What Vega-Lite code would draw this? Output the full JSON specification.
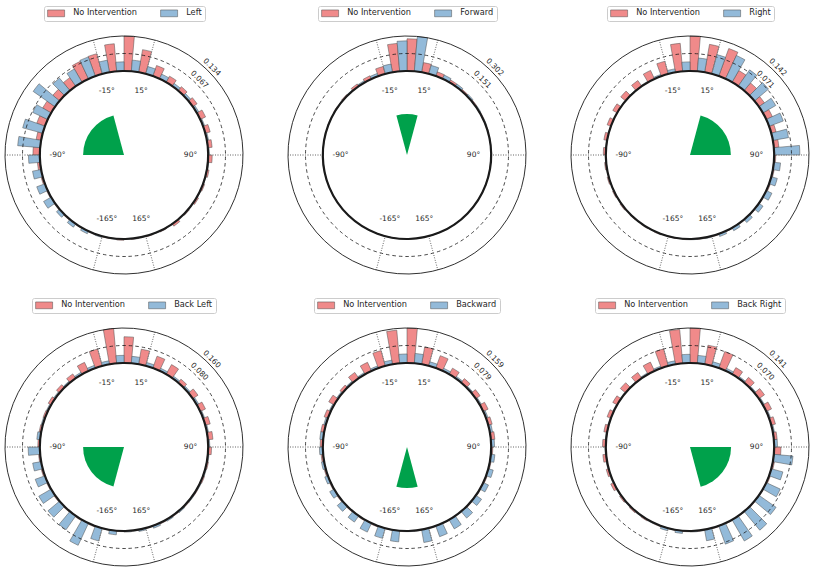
{
  "$schema": "https://vega.github.io/schema/vega-lite/v6.json",
  "background": "white",
  "padding": {"left": 0, "top": 5, "right": 0, "bottom": 0},
  "columns": 3,
  "spacing": {"row": 18, "column": 35},
  "resolve": {
    "scale": {"color": "independent", "theta": "independent", "radius": "independent"},
    "legend": {"color": "independent"}
  },
  "concat": [
    {
      "width": 248, "height": 248,
      "layer": [
        {
          "data": {"values": [
            {"s":"No Intervention","a":-180,"b":-175,"v":0.005},{"s":"No Intervention","a":-170,"b":-165,"v":0.003},{"s":"No Intervention","a":-160,"b":-155,"v":0.003},{"s":"No Intervention","a":-150,"b":-145,"v":0.003},{"s":"No Intervention","a":-140,"b":-135,"v":0.004},{"s":"No Intervention","a":-130,"b":-125,"v":0.004},{"s":"No Intervention","a":-120,"b":-115,"v":0.005},{"s":"No Intervention","a":-110,"b":-105,"v":0.007},{"s":"No Intervention","a":-100,"b":-95,"v":0.011},{"s":"No Intervention","a":-90,"b":-85,"v":0.027},{"s":"No Intervention","a":-80,"b":-75,"v":0.02},{"s":"No Intervention","a":-70,"b":-65,"v":0.034},{"s":"No Intervention","a":-60,"b":-55,"v":0.038},{"s":"No Intervention","a":-50,"b":-45,"v":0.034},{"s":"No Intervention","a":-40,"b":-35,"v":0.04},{"s":"No Intervention","a":-30,"b":-25,"v":0.074},{"s":"No Intervention","a":-20,"b":-15,"v":0.08},{"s":"No Intervention","a":-10,"b":-5,"v":0.106},{"s":"No Intervention","a":0,"b":5,"v":0.134},{"s":"No Intervention","a":10,"b":15,"v":0.088},{"s":"No Intervention","a":20,"b":25,"v":0.043},{"s":"No Intervention","a":30,"b":35,"v":0.027},{"s":"No Intervention","a":40,"b":45,"v":0.02},{"s":"No Intervention","a":50,"b":55,"v":0.02},{"s":"No Intervention","a":60,"b":65,"v":0.023},{"s":"No Intervention","a":70,"b":75,"v":0.02},{"s":"No Intervention","a":80,"b":85,"v":0.017},{"s":"No Intervention","a":90,"b":95,"v":0.016},{"s":"No Intervention","a":100,"b":105,"v":0.009},{"s":"No Intervention","a":110,"b":115,"v":0.007},{"s":"No Intervention","a":120,"b":125,"v":0.008},{"s":"No Intervention","a":130,"b":135,"v":0.005},{"s":"No Intervention","a":140,"b":145,"v":0.011},{"s":"No Intervention","a":150,"b":155,"v":0.004},{"s":"No Intervention","a":160,"b":165,"v":0.003},{"s":"No Intervention","a":170,"b":175,"v":0.003},
            {"s":"Left","a":-175,"b":-170,"v":0.003},{"s":"Left","a":-165,"b":-160,"v":0.005},{"s":"Left","a":-155,"b":-150,"v":0.011},{"s":"Left","a":-145,"b":-140,"v":0.016},{"s":"Left","a":-135,"b":-130,"v":0.016},{"s":"Left","a":-125,"b":-120,"v":0.034},{"s":"Left","a":-115,"b":-110,"v":0.034},{"s":"Left","a":-105,"b":-100,"v":0.034},{"s":"Left","a":-95,"b":-90,"v":0.044},{"s":"Left","a":-85,"b":-80,"v":0.087},{"s":"Left","a":-75,"b":-70,"v":0.08},{"s":"Left","a":-65,"b":-60,"v":0.064},{"s":"Left","a":-55,"b":-50,"v":0.103},{"s":"Left","a":-45,"b":-40,"v":0.063},{"s":"Left","a":-35,"b":-30,"v":0.059},{"s":"Left","a":-25,"b":-20,"v":0.078},{"s":"Left","a":-15,"b":-10,"v":0.047},{"s":"Left","a":-5,"b":0,"v":0.035},{"s":"Left","a":5,"b":10,"v":0.043},{"s":"Left","a":15,"b":20,"v":0.029},{"s":"Left","a":25,"b":30,"v":0.02},{"s":"Left","a":35,"b":40,"v":0.013},{"s":"Left","a":45,"b":50,"v":0.011},{"s":"Left","a":55,"b":60,"v":0.009},{"s":"Left","a":65,"b":70,"v":0.007},{"s":"Left","a":75,"b":80,"v":0.007},{"s":"Left","a":85,"b":90,"v":0.005},{"s":"Left","a":95,"b":100,"v":0.004},{"s":"Left","a":105,"b":110,"v":0.003},{"s":"Left","a":115,"b":120,"v":0.003},{"s":"Left","a":125,"b":130,"v":0.001},{"s":"Left","a":135,"b":140,"v":0.001},{"s":"Left","a":145,"b":150,"v":0.001},{"s":"Left","a":155,"b":160,"v":0.001},{"s":"Left","a":165,"b":170,"v":0.001},{"s":"Left","a":175,"b":180,"v":0.001}
          ]},
          "mark": {"type": "arc", "stroke": "#4d4d4d", "strokeWidth": 0.5},
          "encoding": {
            "theta": {"field": "a", "type": "quantitative", "stack": null, "scale": {"type": "linear", "domain": [-180, 180], "range": [-3.141592653589793, 3.141592653589793]}},
            "theta2": {"field": "b"},
            "radius": {"field": "v", "type": "quantitative", "scale": {"type": "linear", "domain": [-0.3216, 0.134], "range": [0, 119], "zero": false, "nice": false}},
            "radius2": {"datum": 0},
            "color": {"field": "s", "type": "nominal", "scale": {"domain": ["No Intervention", "Left"], "range": ["#f08a8a", "#93bad9"]}, "legend": {"title": null}}
          }
        },
        {
          "data": {"values": [{"r": 0.067}]},
          "mark": {"type": "arc", "filled": false, "stroke": "#1a1a1a", "strokeWidth": 0.8, "strokeDash": [3.5, 3]},
          "encoding": {"theta": {"datum": -181}, "theta2": {"datum": 181}, "radius": {"field": "r", "type": "quantitative"}, "radius2": {"datum": -0.3216}}
        },
        {
          "data": {"values": [{"t": -165}, {"t": -90}, {"t": -15}, {"t": 15}, {"t": 90}, {"t": 165}]},
          "mark": {"type": "arc", "filled": false, "stroke": "#808080", "strokeWidth": 0.9, "strokeDash": [0.8, 1.7], "strokeDashOffset": 0.4},
          "encoding": {"theta": {"field": "t", "type": "quantitative", "stack": null}, "theta2": {"field": "t"}, "radius": {"datum": 0.134}, "radius2": {"datum": 0}}
        },
        {
          "data": {"values": [{"r": 0.134}]},
          "mark": {"type": "arc", "filled": false, "stroke": "#1a1a1a", "strokeWidth": 0.9},
          "encoding": {"theta": {"datum": -181}, "theta2": {"datum": 181}, "radius": {"field": "r", "type": "quantitative"}, "radius2": {"datum": -0.3216}}
        },
        {
          "data": {"values": [{"r": 0}]},
          "mark": {"type": "arc", "filled": false, "stroke": "#1a1a1a", "strokeWidth": 2.2},
          "encoding": {"theta": {"datum": -181}, "theta2": {"datum": 181}, "radius": {"field": "r", "type": "quantitative"}, "radius2": {"datum": -0.3216}}
        },
        {
          "data": {"values": [{"a": -90, "b": -15, "r": -0.165}]},
          "mark": {"type": "arc", "fill": "#00a14b"},
          "encoding": {"theta": {"field": "a", "type": "quantitative", "stack": null}, "theta2": {"field": "b"}, "radius": {"field": "r", "type": "quantitative"}, "radius2": {"datum": -0.3216}}
        },
        {
          "data": {"values": [{"t": -165, "l": "-165°"}, {"t": -90, "l": "-90°"}, {"t": -15, "l": "-15°"}, {"t": 15, "l": "15°"}, {"t": 90, "l": "90°"}, {"t": 165, "l": "165°"}]},
          "mark": {"type": "text"},
          "encoding": {"theta": {"field": "t", "type": "quantitative"}, "radius": {"datum": -0.067}, "text": {"field": "l"}}
        },
        {
          "data": {"values": [{"r": 0.134, "l": "0.134"}, {"r": 0.067, "l": "0.067"}]},
          "mark": {"type": "text", "angle": 45, "radiusOffset": 5},
          "encoding": {"theta": {"datum": 45}, "radius": {"field": "r", "type": "quantitative"}, "text": {"field": "l"}}
        }
      ]
    },
    {
      "width": 248, "height": 248,
      "layer": [
        {
          "data": {"values": [
            {"s":"No Intervention","a":-180,"b":-175,"v":0},{"s":"No Intervention","a":-170,"b":-165,"v":0},{"s":"No Intervention","a":-160,"b":-155,"v":0},{"s":"No Intervention","a":-150,"b":-145,"v":0},{"s":"No Intervention","a":-140,"b":-135,"v":0},{"s":"No Intervention","a":-130,"b":-125,"v":0},{"s":"No Intervention","a":-120,"b":-115,"v":0.002},{"s":"No Intervention","a":-110,"b":-105,"v":0.002},{"s":"No Intervention","a":-100,"b":-95,"v":0.003},{"s":"No Intervention","a":-90,"b":-85,"v":0.003},{"s":"No Intervention","a":-80,"b":-75,"v":0.003},{"s":"No Intervention","a":-70,"b":-65,"v":0.006},{"s":"No Intervention","a":-60,"b":-55,"v":0.009},{"s":"No Intervention","a":-50,"b":-45,"v":0.012},{"s":"No Intervention","a":-40,"b":-35,"v":0.024},{"s":"No Intervention","a":-30,"b":-25,"v":0.03},{"s":"No Intervention","a":-20,"b":-15,"v":0.066},{"s":"No Intervention","a":-10,"b":-5,"v":0.242},{"s":"No Intervention","a":0,"b":5,"v":0.278},{"s":"No Intervention","a":10,"b":15,"v":0.085},{"s":"No Intervention","a":20,"b":25,"v":0.039},{"s":"No Intervention","a":30,"b":35,"v":0.024},{"s":"No Intervention","a":40,"b":45,"v":0.015},{"s":"No Intervention","a":50,"b":55,"v":0.012},{"s":"No Intervention","a":60,"b":65,"v":0.009},{"s":"No Intervention","a":70,"b":75,"v":0.006},{"s":"No Intervention","a":80,"b":85,"v":0.003},{"s":"No Intervention","a":90,"b":95,"v":0.003},{"s":"No Intervention","a":100,"b":105,"v":0.002},{"s":"No Intervention","a":110,"b":115,"v":0},{"s":"No Intervention","a":120,"b":125,"v":0},{"s":"No Intervention","a":130,"b":135,"v":0},{"s":"No Intervention","a":140,"b":145,"v":0},{"s":"No Intervention","a":150,"b":155,"v":0},{"s":"No Intervention","a":160,"b":165,"v":0},{"s":"No Intervention","a":170,"b":175,"v":0},
            {"s":"Forward","a":-175,"b":-170,"v":0},{"s":"Forward","a":-165,"b":-160,"v":0},{"s":"Forward","a":-155,"b":-150,"v":0},{"s":"Forward","a":-145,"b":-140,"v":0},{"s":"Forward","a":-135,"b":-130,"v":0},{"s":"Forward","a":-125,"b":-120,"v":0},{"s":"Forward","a":-115,"b":-110,"v":0.001},{"s":"Forward","a":-105,"b":-100,"v":0.001},{"s":"Forward","a":-95,"b":-90,"v":0.001},{"s":"Forward","a":-85,"b":-80,"v":0.001},{"s":"Forward","a":-75,"b":-70,"v":0.002},{"s":"Forward","a":-65,"b":-60,"v":0.003},{"s":"Forward","a":-55,"b":-50,"v":0.006},{"s":"Forward","a":-45,"b":-40,"v":0.009},{"s":"Forward","a":-35,"b":-30,"v":0.015},{"s":"Forward","a":-25,"b":-20,"v":0.024},{"s":"Forward","a":-15,"b":-10,"v":0.072},{"s":"Forward","a":-5,"b":0,"v":0.26},{"s":"Forward","a":5,"b":10,"v":0.302},{"s":"Forward","a":15,"b":20,"v":0.076},{"s":"Forward","a":25,"b":30,"v":0.036},{"s":"Forward","a":35,"b":40,"v":0.024},{"s":"Forward","a":45,"b":50,"v":0.018},{"s":"Forward","a":55,"b":60,"v":0.012},{"s":"Forward","a":65,"b":70,"v":0.009},{"s":"Forward","a":75,"b":80,"v":0.003},{"s":"Forward","a":85,"b":90,"v":0.002},{"s":"Forward","a":95,"b":100,"v":0.001},{"s":"Forward","a":105,"b":110,"v":0.001},{"s":"Forward","a":115,"b":120,"v":0.001},{"s":"Forward","a":125,"b":130,"v":0},{"s":"Forward","a":135,"b":140,"v":0},{"s":"Forward","a":145,"b":150,"v":0},{"s":"Forward","a":155,"b":160,"v":0},{"s":"Forward","a":165,"b":170,"v":0},{"s":"Forward","a":175,"b":180,"v":0}
          ]},
          "mark": {"type": "arc", "stroke": "#4d4d4d", "strokeWidth": 0.5},
          "encoding": {
            "theta": {"field": "a", "type": "quantitative", "stack": null, "scale": {"type": "linear", "domain": [-180, 180], "range": [-3.141592653589793, 3.141592653589793]}},
            "theta2": {"field": "b"},
            "radius": {"field": "v", "type": "quantitative", "scale": {"type": "linear", "domain": [-0.7248, 0.302], "range": [0, 119], "zero": false, "nice": false}},
            "radius2": {"datum": 0},
            "color": {"field": "s", "type": "nominal", "scale": {"domain": ["No Intervention", "Forward"], "range": ["#f08a8a", "#93bad9"]}, "legend": {"title": null}}
          }
        },
        {
          "data": {"values": [{"r": 0.151}]},
          "mark": {"type": "arc", "filled": false, "stroke": "#1a1a1a", "strokeWidth": 0.8, "strokeDash": [3.5, 3]},
          "encoding": {"theta": {"datum": -181}, "theta2": {"datum": 181}, "radius": {"field": "r", "type": "quantitative"}, "radius2": {"datum": -0.7248}}
        },
        {
          "data": {"values": [{"t": -165}, {"t": -90}, {"t": -15}, {"t": 15}, {"t": 90}, {"t": 165}]},
          "mark": {"type": "arc", "filled": false, "stroke": "#808080", "strokeWidth": 0.9, "strokeDash": [0.8, 1.7], "strokeDashOffset": 0.4},
          "encoding": {"theta": {"field": "t", "type": "quantitative", "stack": null}, "theta2": {"field": "t"}, "radius": {"datum": 0.302}, "radius2": {"datum": 0}}
        },
        {
          "data": {"values": [{"r": 0.302}]},
          "mark": {"type": "arc", "filled": false, "stroke": "#1a1a1a", "strokeWidth": 0.9},
          "encoding": {"theta": {"datum": -181}, "theta2": {"datum": 181}, "radius": {"field": "r", "type": "quantitative"}, "radius2": {"datum": -0.7248}}
        },
        {
          "data": {"values": [{"r": 0}]},
          "mark": {"type": "arc", "filled": false, "stroke": "#1a1a1a", "strokeWidth": 2.2},
          "encoding": {"theta": {"datum": -181}, "theta2": {"datum": 181}, "radius": {"field": "r", "type": "quantitative"}, "radius2": {"datum": -0.7248}}
        },
        {
          "data": {"values": [{"a": -15, "b": 15, "r": -0.371}]},
          "mark": {"type": "arc", "fill": "#00a14b"},
          "encoding": {"theta": {"field": "a", "type": "quantitative", "stack": null}, "theta2": {"field": "b"}, "radius": {"field": "r", "type": "quantitative"}, "radius2": {"datum": -0.7248}}
        },
        {
          "data": {"values": [{"t": -165, "l": "-165°"}, {"t": -90, "l": "-90°"}, {"t": -15, "l": "-15°"}, {"t": 15, "l": "15°"}, {"t": 90, "l": "90°"}, {"t": 165, "l": "165°"}]},
          "mark": {"type": "text"},
          "encoding": {"theta": {"field": "t", "type": "quantitative"}, "radius": {"datum": -0.151}, "text": {"field": "l"}}
        },
        {
          "data": {"values": [{"r": 0.302, "l": "0.302"}, {"r": 0.151, "l": "0.151"}]},
          "mark": {"type": "text", "angle": 45, "radiusOffset": 5},
          "encoding": {"theta": {"datum": 45}, "radius": {"field": "r", "type": "quantitative"}, "text": {"field": "l"}}
        }
      ]
    },
    {
      "width": 248, "height": 248,
      "layer": [
        {
          "data": {"values": [
            {"s":"No Intervention","a":-180,"b":-175,"v":0.003},{"s":"No Intervention","a":-170,"b":-165,"v":0.003},{"s":"No Intervention","a":-160,"b":-155,"v":0.004},{"s":"No Intervention","a":-150,"b":-145,"v":0.004},{"s":"No Intervention","a":-140,"b":-135,"v":0.004},{"s":"No Intervention","a":-130,"b":-125,"v":0.006},{"s":"No Intervention","a":-120,"b":-115,"v":0.006},{"s":"No Intervention","a":-110,"b":-105,"v":0.007},{"s":"No Intervention","a":-100,"b":-95,"v":0.007},{"s":"No Intervention","a":-90,"b":-85,"v":0.011},{"s":"No Intervention","a":-80,"b":-75,"v":0.014},{"s":"No Intervention","a":-70,"b":-65,"v":0.017},{"s":"No Intervention","a":-60,"b":-55,"v":0.021},{"s":"No Intervention","a":-50,"b":-45,"v":0.026},{"s":"No Intervention","a":-40,"b":-35,"v":0.028},{"s":"No Intervention","a":-30,"b":-25,"v":0.038},{"s":"No Intervention","a":-20,"b":-15,"v":0.053},{"s":"No Intervention","a":-10,"b":-5,"v":0.114},{"s":"No Intervention","a":0,"b":5,"v":0.142},{"s":"No Intervention","a":10,"b":15,"v":0.115},{"s":"No Intervention","a":20,"b":25,"v":0.119},{"s":"No Intervention","a":30,"b":35,"v":0.055},{"s":"No Intervention","a":40,"b":45,"v":0.041},{"s":"No Intervention","a":50,"b":55,"v":0.028},{"s":"No Intervention","a":60,"b":65,"v":0.028},{"s":"No Intervention","a":70,"b":75,"v":0.021},{"s":"No Intervention","a":80,"b":85,"v":0.021},{"s":"No Intervention","a":90,"b":95,"v":0.007},{"s":"No Intervention","a":100,"b":105,"v":0.006},{"s":"No Intervention","a":110,"b":115,"v":0.006},{"s":"No Intervention","a":120,"b":125,"v":0.004},{"s":"No Intervention","a":130,"b":135,"v":0.004},{"s":"No Intervention","a":140,"b":145,"v":0.004},{"s":"No Intervention","a":150,"b":155,"v":0.003},{"s":"No Intervention","a":160,"b":165,"v":0.003},{"s":"No Intervention","a":170,"b":175,"v":0.003},
            {"s":"Right","a":-175,"b":-170,"v":0.001},{"s":"Right","a":-165,"b":-160,"v":0.001},{"s":"Right","a":-155,"b":-150,"v":0.001},{"s":"Right","a":-145,"b":-140,"v":0.001},{"s":"Right","a":-135,"b":-130,"v":0.001},{"s":"Right","a":-125,"b":-120,"v":0.001},{"s":"Right","a":-115,"b":-110,"v":0.001},{"s":"Right","a":-105,"b":-100,"v":0.001},{"s":"Right","a":-95,"b":-90,"v":0.001},{"s":"Right","a":-85,"b":-80,"v":0.002},{"s":"Right","a":-75,"b":-70,"v":0.002},{"s":"Right","a":-65,"b":-60,"v":0.002},{"s":"Right","a":-55,"b":-50,"v":0.002},{"s":"Right","a":-45,"b":-40,"v":0.003},{"s":"Right","a":-35,"b":-30,"v":0.004},{"s":"Right","a":-25,"b":-20,"v":0.007},{"s":"Right","a":-15,"b":-10,"v":0.014},{"s":"Right","a":-5,"b":0,"v":0.037},{"s":"Right","a":5,"b":10,"v":0.054},{"s":"Right","a":15,"b":20,"v":0.081},{"s":"Right","a":25,"b":30,"v":0.105},{"s":"Right","a":35,"b":40,"v":0.081},{"s":"Right","a":45,"b":50,"v":0.075},{"s":"Right","a":55,"b":60,"v":0.061},{"s":"Right","a":65,"b":70,"v":0.062},{"s":"Right","a":75,"b":80,"v":0.065},{"s":"Right","a":85,"b":90,"v":0.105},{"s":"Right","a":95,"b":100,"v":0.028},{"s":"Right","a":105,"b":110,"v":0.026},{"s":"Right","a":115,"b":120,"v":0.026},{"s":"Right","a":125,"b":130,"v":0.021},{"s":"Right","a":135,"b":140,"v":0.017},{"s":"Right","a":145,"b":150,"v":0.014},{"s":"Right","a":155,"b":160,"v":0.011},{"s":"Right","a":165,"b":170,"v":0.004},{"s":"Right","a":175,"b":180,"v":0.003}
          ]},
          "mark": {"type": "arc", "stroke": "#4d4d4d", "strokeWidth": 0.5},
          "encoding": {
            "theta": {"field": "a", "type": "quantitative", "stack": null, "scale": {"type": "linear", "domain": [-180, 180], "range": [-3.141592653589793, 3.141592653589793]}},
            "theta2": {"field": "b"},
            "radius": {"field": "v", "type": "quantitative", "scale": {"type": "linear", "domain": [-0.3408, 0.142], "range": [0, 119], "zero": false, "nice": false}},
            "radius2": {"datum": 0},
            "color": {"field": "s", "type": "nominal", "scale": {"domain": ["No Intervention", "Right"], "range": ["#f08a8a", "#93bad9"]}, "legend": {"title": null}}
          }
        },
        {
          "data": {"values": [{"r": 0.071}]},
          "mark": {"type": "arc", "filled": false, "stroke": "#1a1a1a", "strokeWidth": 0.8, "strokeDash": [3.5, 3]},
          "encoding": {"theta": {"datum": -181}, "theta2": {"datum": 181}, "radius": {"field": "r", "type": "quantitative"}, "radius2": {"datum": -0.3408}}
        },
        {
          "data": {"values": [{"t": -165}, {"t": -90}, {"t": -15}, {"t": 15}, {"t": 90}, {"t": 165}]},
          "mark": {"type": "arc", "filled": false, "stroke": "#808080", "strokeWidth": 0.9, "strokeDash": [0.8, 1.7], "strokeDashOffset": 0.4},
          "encoding": {"theta": {"field": "t", "type": "quantitative", "stack": null}, "theta2": {"field": "t"}, "radius": {"datum": 0.142}, "radius2": {"datum": 0}}
        },
        {
          "data": {"values": [{"r": 0.142}]},
          "mark": {"type": "arc", "filled": false, "stroke": "#1a1a1a", "strokeWidth": 0.9},
          "encoding": {"theta": {"datum": -181}, "theta2": {"datum": 181}, "radius": {"field": "r", "type": "quantitative"}, "radius2": {"datum": -0.3408}}
        },
        {
          "data": {"values": [{"r": 0}]},
          "mark": {"type": "arc", "filled": false, "stroke": "#1a1a1a", "strokeWidth": 2.2},
          "encoding": {"theta": {"datum": -181}, "theta2": {"datum": 181}, "radius": {"field": "r", "type": "quantitative"}, "radius2": {"datum": -0.3408}}
        },
        {
          "data": {"values": [{"a": 15, "b": 90, "r": -0.175}]},
          "mark": {"type": "arc", "fill": "#00a14b"},
          "encoding": {"theta": {"field": "a", "type": "quantitative", "stack": null}, "theta2": {"field": "b"}, "radius": {"field": "r", "type": "quantitative"}, "radius2": {"datum": -0.3408}}
        },
        {
          "data": {"values": [{"t": -165, "l": "-165°"}, {"t": -90, "l": "-90°"}, {"t": -15, "l": "-15°"}, {"t": 15, "l": "15°"}, {"t": 90, "l": "90°"}, {"t": 165, "l": "165°"}]},
          "mark": {"type": "text"},
          "encoding": {"theta": {"field": "t", "type": "quantitative"}, "radius": {"datum": -0.071}, "text": {"field": "l"}}
        },
        {
          "data": {"values": [{"r": 0.142, "l": "0.142"}, {"r": 0.071, "l": "0.071"}]},
          "mark": {"type": "text", "angle": 45, "radiusOffset": 5},
          "encoding": {"theta": {"datum": 45}, "radius": {"field": "r", "type": "quantitative"}, "text": {"field": "l"}}
        }
      ]
    },
    {
      "width": 248, "height": 248,
      "layer": [
        {
          "data": {"values": [
            {"s":"No Intervention","a":-180,"b":-175,"v":0.003},{"s":"No Intervention","a":-170,"b":-165,"v":0.003},{"s":"No Intervention","a":-160,"b":-155,"v":0.005},{"s":"No Intervention","a":-150,"b":-145,"v":0.005},{"s":"No Intervention","a":-140,"b":-135,"v":0.005},{"s":"No Intervention","a":-130,"b":-125,"v":0.006},{"s":"No Intervention","a":-120,"b":-115,"v":0.006},{"s":"No Intervention","a":-110,"b":-105,"v":0.008},{"s":"No Intervention","a":-100,"b":-95,"v":0.008},{"s":"No Intervention","a":-90,"b":-85,"v":0.01},{"s":"No Intervention","a":-80,"b":-75,"v":0.01},{"s":"No Intervention","a":-70,"b":-65,"v":0.01},{"s":"No Intervention","a":-60,"b":-55,"v":0.016},{"s":"No Intervention","a":-50,"b":-45,"v":0.019},{"s":"No Intervention","a":-40,"b":-35,"v":0.024},{"s":"No Intervention","a":-30,"b":-25,"v":0.043},{"s":"No Intervention","a":-20,"b":-15,"v":0.08},{"s":"No Intervention","a":-10,"b":-5,"v":0.16},{"s":"No Intervention","a":0,"b":5,"v":0.12},{"s":"No Intervention","a":10,"b":15,"v":0.07},{"s":"No Intervention","a":20,"b":25,"v":0.058},{"s":"No Intervention","a":30,"b":35,"v":0.051},{"s":"No Intervention","a":40,"b":45,"v":0.021},{"s":"No Intervention","a":50,"b":55,"v":0.029},{"s":"No Intervention","a":60,"b":65,"v":0.027},{"s":"No Intervention","a":70,"b":75,"v":0.024},{"s":"No Intervention","a":80,"b":85,"v":0.024},{"s":"No Intervention","a":90,"b":95,"v":0.016},{"s":"No Intervention","a":100,"b":105,"v":0.008},{"s":"No Intervention","a":110,"b":115,"v":0.008},{"s":"No Intervention","a":120,"b":125,"v":0.006},{"s":"No Intervention","a":130,"b":135,"v":0.006},{"s":"No Intervention","a":140,"b":145,"v":0.005},{"s":"No Intervention","a":150,"b":155,"v":0.005},{"s":"No Intervention","a":160,"b":165,"v":0.003},{"s":"No Intervention","a":170,"b":175,"v":0.003},
            {"s":"Back Left","a":-175,"b":-170,"v":0.019},{"s":"Back Left","a":-165,"b":-160,"v":0.061},{"s":"Back Left","a":-155,"b":-150,"v":0.112},{"s":"Back Left","a":-145,"b":-140,"v":0.078},{"s":"Back Left","a":-135,"b":-130,"v":0.07},{"s":"Back Left","a":-125,"b":-120,"v":0.066},{"s":"Back Left","a":-115,"b":-110,"v":0.048},{"s":"Back Left","a":-105,"b":-100,"v":0.04},{"s":"Back Left","a":-95,"b":-90,"v":0.054},{"s":"Back Left","a":-85,"b":-80,"v":0.016},{"s":"Back Left","a":-75,"b":-70,"v":0.008},{"s":"Back Left","a":-65,"b":-60,"v":0.008},{"s":"Back Left","a":-55,"b":-50,"v":0.008},{"s":"Back Left","a":-45,"b":-40,"v":0.008},{"s":"Back Left","a":-35,"b":-30,"v":0.01},{"s":"Back Left","a":-25,"b":-20,"v":0.013},{"s":"Back Left","a":-15,"b":-10,"v":0.016},{"s":"Back Left","a":-5,"b":0,"v":0.035},{"s":"Back Left","a":5,"b":10,"v":0.032},{"s":"Back Left","a":15,"b":20,"v":0.016},{"s":"Back Left","a":25,"b":30,"v":0.013},{"s":"Back Left","a":35,"b":40,"v":0.011},{"s":"Back Left","a":45,"b":50,"v":0.01},{"s":"Back Left","a":55,"b":60,"v":0.01},{"s":"Back Left","a":65,"b":70,"v":0.008},{"s":"Back Left","a":75,"b":80,"v":0.008},{"s":"Back Left","a":85,"b":90,"v":0.008},{"s":"Back Left","a":95,"b":100,"v":0.006},{"s":"Back Left","a":105,"b":110,"v":0.006},{"s":"Back Left","a":115,"b":120,"v":0.006},{"s":"Back Left","a":125,"b":130,"v":0.006},{"s":"Back Left","a":135,"b":140,"v":0.008},{"s":"Back Left","a":145,"b":150,"v":0.008},{"s":"Back Left","a":155,"b":160,"v":0.011},{"s":"Back Left","a":165,"b":170,"v":0.008},{"s":"Back Left","a":175,"b":180,"v":0.005}
          ]},
          "mark": {"type": "arc", "stroke": "#4d4d4d", "strokeWidth": 0.5},
          "encoding": {
            "theta": {"field": "a", "type": "quantitative", "stack": null, "scale": {"type": "linear", "domain": [-180, 180], "range": [-3.141592653589793, 3.141592653589793]}},
            "theta2": {"field": "b"},
            "radius": {"field": "v", "type": "quantitative", "scale": {"type": "linear", "domain": [-0.384, 0.16], "range": [0, 119], "zero": false, "nice": false}},
            "radius2": {"datum": 0},
            "color": {"field": "s", "type": "nominal", "scale": {"domain": ["No Intervention", "Back Left"], "range": ["#f08a8a", "#93bad9"]}, "legend": {"title": null}}
          }
        },
        {
          "data": {"values": [{"r": 0.08}]},
          "mark": {"type": "arc", "filled": false, "stroke": "#1a1a1a", "strokeWidth": 0.8, "strokeDash": [3.5, 3]},
          "encoding": {"theta": {"datum": -181}, "theta2": {"datum": 181}, "radius": {"field": "r", "type": "quantitative"}, "radius2": {"datum": -0.384}}
        },
        {
          "data": {"values": [{"t": -165}, {"t": -90}, {"t": -15}, {"t": 15}, {"t": 90}, {"t": 165}]},
          "mark": {"type": "arc", "filled": false, "stroke": "#808080", "strokeWidth": 0.9, "strokeDash": [0.8, 1.7], "strokeDashOffset": 0.4},
          "encoding": {"theta": {"field": "t", "type": "quantitative", "stack": null}, "theta2": {"field": "t"}, "radius": {"datum": 0.16}, "radius2": {"datum": 0}}
        },
        {
          "data": {"values": [{"r": 0.16}]},
          "mark": {"type": "arc", "filled": false, "stroke": "#1a1a1a", "strokeWidth": 0.9},
          "encoding": {"theta": {"datum": -181}, "theta2": {"datum": 181}, "radius": {"field": "r", "type": "quantitative"}, "radius2": {"datum": -0.384}}
        },
        {
          "data": {"values": [{"r": 0}]},
          "mark": {"type": "arc", "filled": false, "stroke": "#1a1a1a", "strokeWidth": 2.2},
          "encoding": {"theta": {"datum": -181}, "theta2": {"datum": 181}, "radius": {"field": "r", "type": "quantitative"}, "radius2": {"datum": -0.384}}
        },
        {
          "data": {"values": [{"a": -165, "b": -90, "r": -0.197}]},
          "mark": {"type": "arc", "fill": "#00a14b"},
          "encoding": {"theta": {"field": "a", "type": "quantitative", "stack": null}, "theta2": {"field": "b"}, "radius": {"field": "r", "type": "quantitative"}, "radius2": {"datum": -0.384}}
        },
        {
          "data": {"values": [{"t": -165, "l": "-165°"}, {"t": -90, "l": "-90°"}, {"t": -15, "l": "-15°"}, {"t": 15, "l": "15°"}, {"t": 90, "l": "90°"}, {"t": 165, "l": "165°"}]},
          "mark": {"type": "text"},
          "encoding": {"theta": {"field": "t", "type": "quantitative"}, "radius": {"datum": -0.08}, "text": {"field": "l"}}
        },
        {
          "data": {"values": [{"r": 0.16, "l": "0.160"}, {"r": 0.08, "l": "0.080"}]},
          "mark": {"type": "text", "angle": 45, "radiusOffset": 5},
          "encoding": {"theta": {"datum": 45}, "radius": {"field": "r", "type": "quantitative"}, "text": {"field": "l"}}
        }
      ]
    },
    {
      "width": 248, "height": 248,
      "layer": [
        {
          "data": {"values": [
            {"s":"No Intervention","a":-180,"b":-175,"v":0.003},{"s":"No Intervention","a":-170,"b":-165,"v":0.003},{"s":"No Intervention","a":-160,"b":-155,"v":0.005},{"s":"No Intervention","a":-150,"b":-145,"v":0.005},{"s":"No Intervention","a":-140,"b":-135,"v":0.005},{"s":"No Intervention","a":-130,"b":-125,"v":0.006},{"s":"No Intervention","a":-120,"b":-115,"v":0.006},{"s":"No Intervention","a":-110,"b":-105,"v":0.008},{"s":"No Intervention","a":-100,"b":-95,"v":0.01},{"s":"No Intervention","a":-90,"b":-85,"v":0.013},{"s":"No Intervention","a":-80,"b":-75,"v":0.016},{"s":"No Intervention","a":-70,"b":-65,"v":0.019},{"s":"No Intervention","a":-60,"b":-55,"v":0.029},{"s":"No Intervention","a":-50,"b":-45,"v":0.016},{"s":"No Intervention","a":-40,"b":-35,"v":0.032},{"s":"No Intervention","a":-30,"b":-25,"v":0.043},{"s":"No Intervention","a":-20,"b":-15,"v":0.072},{"s":"No Intervention","a":-10,"b":-5,"v":0.151},{"s":"No Intervention","a":0,"b":5,"v":0.159},{"s":"No Intervention","a":10,"b":15,"v":0.08},{"s":"No Intervention","a":20,"b":25,"v":0.06},{"s":"No Intervention","a":30,"b":35,"v":0.032},{"s":"No Intervention","a":40,"b":45,"v":0.024},{"s":"No Intervention","a":50,"b":55,"v":0.024},{"s":"No Intervention","a":60,"b":65,"v":0.025},{"s":"No Intervention","a":70,"b":75,"v":0.019},{"s":"No Intervention","a":80,"b":85,"v":0.019},{"s":"No Intervention","a":90,"b":95,"v":0.008},{"s":"No Intervention","a":100,"b":105,"v":0.006},{"s":"No Intervention","a":110,"b":115,"v":0.006},{"s":"No Intervention","a":120,"b":125,"v":0.005},{"s":"No Intervention","a":130,"b":135,"v":0.005},{"s":"No Intervention","a":140,"b":145,"v":0.003},{"s":"No Intervention","a":150,"b":155,"v":0.003},{"s":"No Intervention","a":160,"b":165,"v":0.003},{"s":"No Intervention","a":170,"b":175,"v":0.003},
            {"s":"Backward","a":-175,"b":-170,"v":0.051},{"s":"Backward","a":-165,"b":-160,"v":0.048},{"s":"Backward","a":-155,"b":-150,"v":0.045},{"s":"Backward","a":-145,"b":-140,"v":0.035},{"s":"Backward","a":-135,"b":-130,"v":0.032},{"s":"Backward","a":-125,"b":-120,"v":0.024},{"s":"Backward","a":-115,"b":-110,"v":0.016},{"s":"Backward","a":-105,"b":-100,"v":0.013},{"s":"Backward","a":-95,"b":-90,"v":0.016},{"s":"Backward","a":-85,"b":-80,"v":0.016},{"s":"Backward","a":-75,"b":-70,"v":0.01},{"s":"Backward","a":-65,"b":-60,"v":0.008},{"s":"Backward","a":-55,"b":-50,"v":0.008},{"s":"Backward","a":-45,"b":-40,"v":0.008},{"s":"Backward","a":-35,"b":-30,"v":0.008},{"s":"Backward","a":-25,"b":-20,"v":0.01},{"s":"Backward","a":-15,"b":-10,"v":0.019},{"s":"Backward","a":-5,"b":0,"v":0.041},{"s":"Backward","a":5,"b":10,"v":0.045},{"s":"Backward","a":15,"b":20,"v":0.019},{"s":"Backward","a":25,"b":30,"v":0.013},{"s":"Backward","a":35,"b":40,"v":0.01},{"s":"Backward","a":45,"b":50,"v":0.008},{"s":"Backward","a":55,"b":60,"v":0.008},{"s":"Backward","a":65,"b":70,"v":0.01},{"s":"Backward","a":75,"b":80,"v":0.013},{"s":"Backward","a":85,"b":90,"v":0.016},{"s":"Backward","a":95,"b":100,"v":0.019},{"s":"Backward","a":105,"b":110,"v":0.024},{"s":"Backward","a":115,"b":120,"v":0.027},{"s":"Backward","a":125,"b":130,"v":0.032},{"s":"Backward","a":135,"b":140,"v":0.04},{"s":"Backward","a":145,"b":150,"v":0.048},{"s":"Backward","a":155,"b":160,"v":0.052},{"s":"Backward","a":165,"b":170,"v":0.059},{"s":"Backward","a":175,"b":180,"v":0.003}
          ]},
          "mark": {"type": "arc", "stroke": "#4d4d4d", "strokeWidth": 0.5},
          "encoding": {
            "theta": {"field": "a", "type": "quantitative", "stack": null, "scale": {"type": "linear", "domain": [-180, 180], "range": [-3.141592653589793, 3.141592653589793]}},
            "theta2": {"field": "b"},
            "radius": {"field": "v", "type": "quantitative", "scale": {"type": "linear", "domain": [-0.3816, 0.159], "range": [0, 119], "zero": false, "nice": false}},
            "radius2": {"datum": 0},
            "color": {"field": "s", "type": "nominal", "scale": {"domain": ["No Intervention", "Backward"], "range": ["#f08a8a", "#93bad9"]}, "legend": {"title": null}}
          }
        },
        {
          "data": {"values": [{"r": 0.0795}]},
          "mark": {"type": "arc", "filled": false, "stroke": "#1a1a1a", "strokeWidth": 0.8, "strokeDash": [3.5, 3]},
          "encoding": {"theta": {"datum": -181}, "theta2": {"datum": 181}, "radius": {"field": "r", "type": "quantitative"}, "radius2": {"datum": -0.3816}}
        },
        {
          "data": {"values": [{"t": -165}, {"t": -90}, {"t": -15}, {"t": 15}, {"t": 90}, {"t": 165}]},
          "mark": {"type": "arc", "filled": false, "stroke": "#808080", "strokeWidth": 0.9, "strokeDash": [0.8, 1.7], "strokeDashOffset": 0.4},
          "encoding": {"theta": {"field": "t", "type": "quantitative", "stack": null}, "theta2": {"field": "t"}, "radius": {"datum": 0.159}, "radius2": {"datum": 0}}
        },
        {
          "data": {"values": [{"r": 0.159}]},
          "mark": {"type": "arc", "filled": false, "stroke": "#1a1a1a", "strokeWidth": 0.9},
          "encoding": {"theta": {"datum": -181}, "theta2": {"datum": 181}, "radius": {"field": "r", "type": "quantitative"}, "radius2": {"datum": -0.3816}}
        },
        {
          "data": {"values": [{"r": 0}]},
          "mark": {"type": "arc", "filled": false, "stroke": "#1a1a1a", "strokeWidth": 2.2},
          "encoding": {"theta": {"datum": -181}, "theta2": {"datum": 181}, "radius": {"field": "r", "type": "quantitative"}, "radius2": {"datum": -0.3816}}
        },
        {
          "data": {"values": [{"a": 165, "b": 195, "r": -0.195}]},
          "mark": {"type": "arc", "fill": "#00a14b"},
          "encoding": {"theta": {"field": "a", "type": "quantitative", "stack": null}, "theta2": {"field": "b"}, "radius": {"field": "r", "type": "quantitative"}, "radius2": {"datum": -0.3816}}
        },
        {
          "data": {"values": [{"t": -165, "l": "-165°"}, {"t": -90, "l": "-90°"}, {"t": -15, "l": "-15°"}, {"t": 15, "l": "15°"}, {"t": 90, "l": "90°"}, {"t": 165, "l": "165°"}]},
          "mark": {"type": "text"},
          "encoding": {"theta": {"field": "t", "type": "quantitative"}, "radius": {"datum": -0.0795}, "text": {"field": "l"}}
        },
        {
          "data": {"values": [{"r": 0.159, "l": "0.159"}, {"r": 0.0795, "l": "0.079"}]},
          "mark": {"type": "text", "angle": 45, "radiusOffset": 5},
          "encoding": {"theta": {"datum": 45}, "radius": {"field": "r", "type": "quantitative"}, "text": {"field": "l"}}
        }
      ]
    },
    {
      "width": 248, "height": 248,
      "layer": [
        {
          "data": {"values": [
            {"s":"No Intervention","a":-180,"b":-175,"v":0.003},{"s":"No Intervention","a":-170,"b":-165,"v":0.003},{"s":"No Intervention","a":-160,"b":-155,"v":0.004},{"s":"No Intervention","a":-150,"b":-145,"v":0.006},{"s":"No Intervention","a":-140,"b":-135,"v":0.007},{"s":"No Intervention","a":-130,"b":-125,"v":0.008},{"s":"No Intervention","a":-120,"b":-115,"v":0.014},{"s":"No Intervention","a":-110,"b":-105,"v":0.011},{"s":"No Intervention","a":-100,"b":-95,"v":0.014},{"s":"No Intervention","a":-90,"b":-85,"v":0.014},{"s":"No Intervention","a":-80,"b":-75,"v":0.014},{"s":"No Intervention","a":-70,"b":-65,"v":0.017},{"s":"No Intervention","a":-60,"b":-55,"v":0.021},{"s":"No Intervention","a":-50,"b":-45,"v":0.028},{"s":"No Intervention","a":-40,"b":-35,"v":0.028},{"s":"No Intervention","a":-30,"b":-25,"v":0.039},{"s":"No Intervention","a":-20,"b":-15,"v":0.071},{"s":"No Intervention","a":-10,"b":-5,"v":0.137},{"s":"No Intervention","a":0,"b":5,"v":0.141},{"s":"No Intervention","a":10,"b":15,"v":0.078},{"s":"No Intervention","a":20,"b":25,"v":0.071},{"s":"No Intervention","a":30,"b":35,"v":0.031},{"s":"No Intervention","a":40,"b":45,"v":0.028},{"s":"No Intervention","a":50,"b":55,"v":0.028},{"s":"No Intervention","a":60,"b":65,"v":0.024},{"s":"No Intervention","a":70,"b":75,"v":0.018},{"s":"No Intervention","a":80,"b":85,"v":0.014},{"s":"No Intervention","a":90,"b":95,"v":0.028},{"s":"No Intervention","a":100,"b":105,"v":0.007},{"s":"No Intervention","a":110,"b":115,"v":0.006},{"s":"No Intervention","a":120,"b":125,"v":0.004},{"s":"No Intervention","a":130,"b":135,"v":0.004},{"s":"No Intervention","a":140,"b":145,"v":0.003},{"s":"No Intervention","a":150,"b":155,"v":0.003},{"s":"No Intervention","a":160,"b":165,"v":0.003},{"s":"No Intervention","a":170,"b":175,"v":0.003},
            {"s":"Back Right","a":-175,"b":-170,"v":0.011},{"s":"Back Right","a":-165,"b":-160,"v":0.011},{"s":"Back Right","a":-155,"b":-150,"v":0.004},{"s":"Back Right","a":-145,"b":-140,"v":0.004},{"s":"Back Right","a":-135,"b":-130,"v":0.004},{"s":"Back Right","a":-125,"b":-120,"v":0.004},{"s":"Back Right","a":-115,"b":-110,"v":0.004},{"s":"Back Right","a":-105,"b":-100,"v":0.004},{"s":"Back Right","a":-95,"b":-90,"v":0.004},{"s":"Back Right","a":-85,"b":-80,"v":0.004},{"s":"Back Right","a":-75,"b":-70,"v":0.004},{"s":"Back Right","a":-65,"b":-60,"v":0.004},{"s":"Back Right","a":-55,"b":-50,"v":0.004},{"s":"Back Right","a":-45,"b":-40,"v":0.004},{"s":"Back Right","a":-35,"b":-30,"v":0.006},{"s":"Back Right","a":-25,"b":-20,"v":0.008},{"s":"Back Right","a":-15,"b":-10,"v":0.014},{"s":"Back Right","a":-5,"b":0,"v":0.035},{"s":"Back Right","a":5,"b":10,"v":0.032},{"s":"Back Right","a":15,"b":20,"v":0.017},{"s":"Back Right","a":25,"b":30,"v":0.011},{"s":"Back Right","a":35,"b":40,"v":0.008},{"s":"Back Right","a":45,"b":50,"v":0.007},{"s":"Back Right","a":55,"b":60,"v":0.007},{"s":"Back Right","a":65,"b":70,"v":0.007},{"s":"Back Right","a":75,"b":80,"v":0.007},{"s":"Back Right","a":85,"b":90,"v":0.014},{"s":"Back Right","a":95,"b":100,"v":0.078},{"s":"Back Right","a":105,"b":110,"v":0.049},{"s":"Back Right","a":115,"b":120,"v":0.063},{"s":"Back Right","a":125,"b":130,"v":0.085},{"s":"Back Right","a":135,"b":140,"v":0.099},{"s":"Back Right","a":145,"b":150,"v":0.099},{"s":"Back Right","a":155,"b":160,"v":0.078},{"s":"Back Right","a":165,"b":170,"v":0.045},{"s":"Back Right","a":175,"b":180,"v":0.004}
          ]},
          "mark": {"type": "arc", "stroke": "#4d4d4d", "strokeWidth": 0.5},
          "encoding": {
            "theta": {"field": "a", "type": "quantitative", "stack": null, "scale": {"type": "linear", "domain": [-180, 180], "range": [-3.141592653589793, 3.141592653589793]}},
            "theta2": {"field": "b"},
            "radius": {"field": "v", "type": "quantitative", "scale": {"type": "linear", "domain": [-0.3384, 0.141], "range": [0, 119], "zero": false, "nice": false}},
            "radius2": {"datum": 0},
            "color": {"field": "s", "type": "nominal", "scale": {"domain": ["No Intervention", "Back Right"], "range": ["#f08a8a", "#93bad9"]}, "legend": {"title": null}}
          }
        },
        {
          "data": {"values": [{"r": 0.0705}]},
          "mark": {"type": "arc", "filled": false, "stroke": "#1a1a1a", "strokeWidth": 0.8, "strokeDash": [3.5, 3]},
          "encoding": {"theta": {"datum": -181}, "theta2": {"datum": 181}, "radius": {"field": "r", "type": "quantitative"}, "radius2": {"datum": -0.3384}}
        },
        {
          "data": {"values": [{"t": -165}, {"t": -90}, {"t": -15}, {"t": 15}, {"t": 90}, {"t": 165}]},
          "mark": {"type": "arc", "filled": false, "stroke": "#808080", "strokeWidth": 0.9, "strokeDash": [0.8, 1.7], "strokeDashOffset": 0.4},
          "encoding": {"theta": {"field": "t", "type": "quantitative", "stack": null}, "theta2": {"field": "t"}, "radius": {"datum": 0.141}, "radius2": {"datum": 0}}
        },
        {
          "data": {"values": [{"r": 0.141}]},
          "mark": {"type": "arc", "filled": false, "stroke": "#1a1a1a", "strokeWidth": 0.9},
          "encoding": {"theta": {"datum": -181}, "theta2": {"datum": 181}, "radius": {"field": "r", "type": "quantitative"}, "radius2": {"datum": -0.3384}}
        },
        {
          "data": {"values": [{"r": 0}]},
          "mark": {"type": "arc", "filled": false, "stroke": "#1a1a1a", "strokeWidth": 2.2},
          "encoding": {"theta": {"datum": -181}, "theta2": {"datum": 181}, "radius": {"field": "r", "type": "quantitative"}, "radius2": {"datum": -0.3384}}
        },
        {
          "data": {"values": [{"a": 90, "b": 165, "r": -0.173}]},
          "mark": {"type": "arc", "fill": "#00a14b"},
          "encoding": {"theta": {"field": "a", "type": "quantitative", "stack": null}, "theta2": {"field": "b"}, "radius": {"field": "r", "type": "quantitative"}, "radius2": {"datum": -0.3384}}
        },
        {
          "data": {"values": [{"t": -165, "l": "-165°"}, {"t": -90, "l": "-90°"}, {"t": -15, "l": "-15°"}, {"t": 15, "l": "15°"}, {"t": 90, "l": "90°"}, {"t": 165, "l": "165°"}]},
          "mark": {"type": "text"},
          "encoding": {"theta": {"field": "t", "type": "quantitative"}, "radius": {"datum": -0.0705}, "text": {"field": "l"}}
        },
        {
          "data": {"values": [{"r": 0.141, "l": "0.141"}, {"r": 0.0705, "l": "0.070"}]},
          "mark": {"type": "text", "angle": 45, "radiusOffset": 5},
          "encoding": {"theta": {"datum": 45}, "radius": {"field": "r", "type": "quantitative"}, "text": {"field": "l"}}
        }
      ]
    }
  ],
  "config": {
    "view": {"stroke": null},
    "font": "DejaVu Sans",
    "text": {"font": "DejaVu Sans", "fontSize": 7.5, "fill": "#262626", "align": "center", "baseline": "middle"},
    "legend": {
      "orient": "top",
      "direction": "horizontal",
      "layout": {"top": {"anchor": "middle"}},
      "offset": 10,
      "padding": 3,
      "strokeColor": "#cccccc",
      "fillColor": "white",
      "cornerRadius": 2,
      "labelFont": "DejaVu Sans",
      "labelFontSize": 8.2,
      "labelColor": "#262626",
      "symbolType": "M-2.43,-0.97L2.43,-0.97L2.43,0.97L-2.43,0.97Z",
      "symbolSize": 49,
      "symbolStrokeWidth": 0.5,
      "symbolStrokeColor": "#4d4d4d",
      "symbolOffset": 5,
      "labelOffset": 13,
      "columnPadding": 22
    }
  }
}
